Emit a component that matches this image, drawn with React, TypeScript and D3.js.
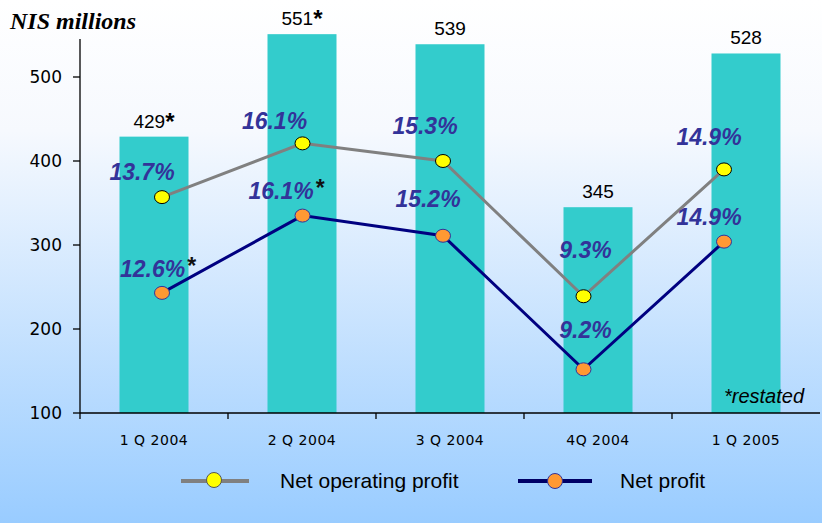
import React, { useEffect, useRef } from 'react';
import * as d3 from 'd3';

const categories = ['1 Q 2004', '2 Q 2004', '3 Q 2004', '4Q 2004', '1 Q 2005'];
const revenue = [429, 551, 539, 345, 528];
const revenueStar = [true, true, false, false, false];
const netOperating = [357, 421, 400, 239, 390];
const netOperatingPct = ['13.7%', '16.1%', '15.3%', '9.3%', '14.9%'];
const netProfit = [243, 335, 311, 152, 304];
const netProfitPct = ['12.6%', '16.1%', '15.2%', '9.2%', '14.9%'];
const netProfitStar = [true, true, false, false, false];
const yTicks = [100, 200, 300, 400, 500];

// label nudges (px) relative to each marker
const opOffsets = [[-20, -17], [-28, -14], [-18, -27], [2, -38], [-15, -24]];
const npOffsets = [[-4, -16], [-16, -17], [-15, -29], [2, -31], [-15, -17]];

const W = 822;
const H = 523;

export default function App() {
  const ref = useRef<SVGSVGElement>(null);

  useEffect(() => {
    const svg = d3.select(ref.current);
    svg.selectAll('*').remove();

    const defs = svg.append('defs');
    const grad = defs.append('linearGradient')
      .attr('id', 'bg').attr('x1', 0).attr('y1', 0).attr('x2', 0).attr('y2', 1);
    grad.append('stop').attr('offset', '0%').attr('stop-color', '#ffffff');
    grad.append('stop').attr('offset', '25%').attr('stop-color', '#f6f9fe');
    grad.append('stop').attr('offset', '100%').attr('stop-color', '#99ccff');
    svg.append('rect').attr('width', W).attr('height', H).attr('fill', 'url(#bg)');

    const left = 80, right = 820, bottom = 413;
    const x = d3.scaleBand().domain(categories).range([left, right]);
    const xp = d3.scalePoint().domain(categories).range([162, 724]);
    const y = d3.scaleLinear().domain([100, 500]).range([bottom, 77]);
    const barW = 69;

    // bars
    svg.append('g').selectAll('rect')
      .data(revenue)
      .enter().append('rect')
        .attr('x', (d, i) => x(categories[i])! + x.bandwidth() / 2 - barW / 2)
        .attr('y', d => y(d))
        .attr('width', barW)
        .attr('height', d => y(100) - y(d))
        .attr('fill', '#33cccc');

    // bar value labels
    const vl = svg.append('g').attr('font-family', 'Arial, Liberation Sans, sans-serif');
    revenue.forEach((v, i) => {
      const cx = x(categories[i])! + x.bandwidth() / 2;
      const t = vl.append('text')
        .attr('x', cx).attr('y', y(v) - 9)
        .attr('text-anchor', 'middle')
        .attr('font-size', 19).attr('fill', '#000')
        .text(String(v));
      if (revenueStar[i]) {
        t.append('tspan').attr('font-weight', 'bold').attr('font-size', 24).attr('dy', 2).text('*');
      }
    });

    // axes
    const ax = svg.append('g').attr('stroke', '#000').attr('stroke-width', 1.3);
    ax.append('line').attr('x1', left).attr('x2', left).attr('y1', 39).attr('y2', bottom);
    ax.append('line').attr('x1', left).attr('x2', right).attr('y1', bottom).attr('y2', bottom);
    yTicks.forEach(t => {
      ax.append('line').attr('x1', 73).attr('x2', left).attr('y1', y(t)).attr('y2', y(t));
    });
    categories.forEach((c) => {
      const bx = x(c)!;
      ax.append('line').attr('x1', bx).attr('x2', bx).attr('y1', bottom).attr('y2', bottom + 6);
    });

    svg.append('g').selectAll('text')
      .data(yTicks)
      .enter().append('text')
        .attr('x', 62).attr('y', d => y(d) + 6)
        .attr('text-anchor', 'end')
        .attr('font-family', 'DejaVu Sans, Verdana, sans-serif')
        .attr('font-size', 17)
        .text(d => String(d));

    svg.append('g').selectAll('text')
      .data(categories)
      .enter().append('text')
        .attr('x', d => x(d)! + x.bandwidth() / 2)
        .attr('y', 445)
        .attr('text-anchor', 'middle')
        .attr('font-family', 'DejaVu Sans, Verdana, sans-serif')
        .attr('font-size', 14)
        .attr('letter-spacing', 0.5)
        .text(d => d);

    // lines
    const line = d3.line<number>()
      .x((d, i) => xp(categories[i])!)
      .y(d => y(d));

    svg.append('path').datum(netOperating)
      .attr('d', line).attr('fill', 'none').attr('stroke', '#808080').attr('stroke-width', 3);
    svg.append('path').datum(netProfit)
      .attr('d', line).attr('fill', 'none').attr('stroke', '#000080').attr('stroke-width', 3);

    svg.append('g').selectAll('ellipse')
      .data(netOperating)
      .enter().append('ellipse')
        .attr('cx', (d, i) => xp(categories[i])!)
        .attr('cy', d => y(d))
        .attr('rx', 7.5).attr('ry', 6.5)
        .attr('fill', '#ffff00').attr('stroke', '#000').attr('stroke-width', 1);
    svg.append('g').selectAll('ellipse')
      .data(netProfit)
      .enter().append('ellipse')
        .attr('cx', (d, i) => xp(categories[i])!)
        .attr('cy', d => y(d))
        .attr('rx', 7.5).attr('ry', 6.5)
        .attr('fill', '#ff9933').attr('stroke', '#333399').attr('stroke-width', 1);

    // percentage labels
    const pl = svg.append('g')
      .attr('font-family', 'Arial, Liberation Sans, sans-serif')
      .attr('font-weight', 'bold').attr('font-style', 'italic')
      .attr('font-size', 23).attr('fill', '#333399')
      .attr('text-anchor', 'middle');
    netOperatingPct.forEach((p, i) => {
      pl.append('text')
        .attr('x', xp(categories[i])! + opOffsets[i][0])
        .attr('y', y(netOperating[i]) + opOffsets[i][1])
        .text(p);
    });
    netProfitPct.forEach((p, i) => {
      const t = pl.append('text')
        .attr('x', xp(categories[i])! + npOffsets[i][0])
        .attr('y', y(netProfit[i]) + npOffsets[i][1])
        .text(p);
      if (netProfitStar[i]) {
        t.append('tspan').attr('fill', '#111').attr('font-style', 'normal').attr('dy', -3).attr('dx', 2).text('*');
      }
    });

    // title + footnote
    svg.append('text')
      .attr('x', 10).attr('y', 29)
      .attr('font-family', 'Liberation Serif, Times New Roman, serif')
      .attr('font-weight', 'bold').attr('font-style', 'italic')
      .attr('font-size', 24)
      .text('NIS millions');
    svg.append('text')
      .attr('x', 724).attr('y', 403)
      .attr('font-family', 'Arial, Liberation Sans, sans-serif')
      .attr('font-style', 'italic')
      .attr('font-size', 20)
      .text('*restated');

    // legend
    const lg = svg.append('g');
    lg.append('line').attr('x1', 181).attr('x2', 249).attr('y1', 481).attr('y2', 481)
      .attr('stroke', '#808080').attr('stroke-width', 4);
    lg.append('ellipse').attr('cx', 214).attr('cy', 480).attr('rx', 7.5).attr('ry', 7.5)
      .attr('fill', '#ffff00').attr('stroke', '#555').attr('stroke-width', 1);
    lg.append('text').attr('x', 280).attr('y', 488)
      .attr('font-family', 'Arial, Liberation Sans, sans-serif').attr('font-size', 21)
      .text('Net operating profit');
    lg.append('line').attr('x1', 518).attr('x2', 592).attr('y1', 481).attr('y2', 481)
      .attr('stroke', '#000066').attr('stroke-width', 4);
    lg.append('ellipse').attr('cx', 555).attr('cy', 481).attr('rx', 7.5).attr('ry', 7.5)
      .attr('fill', '#ff9933').attr('stroke', '#333399').attr('stroke-width', 1);
    lg.append('text').attr('x', 620).attr('y', 488)
      .attr('font-family', 'Arial, Liberation Sans, sans-serif').attr('font-size', 21)
      .text('Net profit');
  }, []);

  return (
    <svg ref={ref} width={W} height={H}
      style={{ position: 'absolute', left: 0, top: 0, display: 'block' }} />
  );
}
